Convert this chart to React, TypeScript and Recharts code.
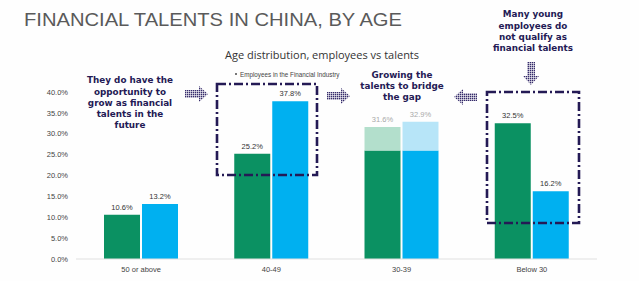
import { BarChart, Bar, XAxis, YAxis, LabelList } from "recharts"

const ageGroups = ["50 or above", "40-49", "30-39", "Below 30"]
// employees in the financial industry (green) and financial talents (blue), in %
const employeesSolid = [10.6, 25.2, 26.0, 32.5]
const employeesTotal = [10.6, 25.2, 31.6, 32.5]
const talentsSolid = [13.2, 37.8, 26.0, 16.2]
const talentsTotal = [13.2, 37.8, 32.9, 16.2]
const yTicks = [0, 5, 10, 15, 20, 25, 30, 35, 40]

const chartData = ageGroups.map((name, i) => ({
  name,
  empBase: employeesSolid[i],
  empExtra: +(employeesTotal[i] - employeesSolid[i]).toFixed(1),
  talBase: talentsSolid[i],
  talExtra: +(talentsTotal[i] - talentsSolid[i]).toFixed(1),
}))

const GREEN = "#0b9162"
const GREEN_LIGHT = "#b3dfcc"
const BLUE = "#00b0f0"
const BLUE_LIGHT = "#b7e5f8"
const NAVY = "#241a55"
const FONT = "'Liberation Sans', Arial, sans-serif"

// label sits above the whole stack: work out its top from the base bar's own scale
const totalLabel = (solid: number[], totals: number[]) => (props: any) => {
  const { x, y, width, height, index } = props
  const bottom = Number(y) + Number(height)
  const pxPerUnit = Number(height) / solid[index]
  const top = bottom - totals[index] * pxPerUnit
  const faded = totals[index] > solid[index]
  return (
    <text
      x={Number(x) + Number(width) / 2}
      y={top - 5}
      textAnchor="middle"
      fontSize={7.5}
      fontFamily={FONT}
      fill={faded ? "#a9a9a9" : "#333"}
    >
      {totals[index].toFixed(1)}%
    </text>
  )
}

function Arrow({ x, y, dir }: { x: number; y: number; dir: "right" | "left" | "down" }) {
  // arrow drawn pointing right around (0,0), then rotated
  const rot = dir === "right" ? 0 : dir === "left" ? 180 : 90
  return (
    <g transform={`translate(${x},${y}) rotate(${rot})`}>
      <polygon
        points="-12,-4 2,-4 2,-8 11,0 2,8 2,4 -12,4"
        fill="url(#dots)"
      />
    </g>
  )
}

const dashDot = "9 3 2 3"

export default function App() {
  return (
    <div
      style={{
        position: "absolute",
        left: 0,
        top: 0,
        width: 639,
        height: 281,
        background: "#fefefe",
        overflow: "hidden",
      }}
    >
      <BarChart
        width={639}
        height={281}
        data={chartData}
        margin={{ top: 92, right: 42, bottom: 2, left: 16 }}
        barSize={36}
        barGap={2}
      >
        <XAxis
          dataKey="name"
          height={20}
          tickLine={false}
          axisLine={{ stroke: "#e0e0e0" }}
          tick={{ fontSize: 7.5, fill: "#444", fontFamily: FONT }}
        />
        <YAxis
          width={60}
          domain={[0, 40]}
          ticks={yTicks}
          axisLine={false}
          tickLine={false}
          tick={{ fontSize: 7.5, fill: "#444", fontFamily: FONT }}
          tickFormatter={(v) => `${Number(v).toFixed(1)}%`}
        />
        <Bar dataKey="empBase" stackId="emp" fill={GREEN} isAnimationActive={false}>
          <LabelList dataKey="empBase" content={totalLabel(employeesSolid, employeesTotal)} />
        </Bar>
        <Bar dataKey="empExtra" stackId="emp" fill={GREEN_LIGHT} isAnimationActive={false} />
        <Bar dataKey="talBase" stackId="tal" fill={BLUE} isAnimationActive={false}>
          <LabelList dataKey="talBase" content={totalLabel(talentsSolid, talentsTotal)} />
        </Bar>
        <Bar dataKey="talExtra" stackId="tal" fill={BLUE_LIGHT} isAnimationActive={false} />
      </BarChart>

      <svg
        width={639}
        height={281}
        style={{ position: "absolute", left: 0, top: 0, pointerEvents: "none" }}
      >
        <defs>
          <pattern id="dots" width="2" height="2" patternUnits="userSpaceOnUse">
            <rect width="1.4" height="1.4" fill="#352b6a" />
          </pattern>
        </defs>

        <text x={24} y={26} fontSize={19} fontFamily={FONT} fill="#5a5a5a" textLength={378} lengthAdjust="spacingAndGlyphs">
          FINANCIAL TALENTS IN CHINA, BY AGE
        </text>
        <text x={322} y={59} textAnchor="middle" fontSize={11} fontFamily="'Open Sans', sans-serif" fill="#333">
          Age distribution, employees vs talents
        </text>
        <rect x={235} y={73} width={2} height={2} fill="#777" />
        <text x={240} y={77} fontSize={6.3} fontFamily={FONT} fill="#444">
          Employees in the Financial Industry
        </text>

        <g fontFamily="'DejaVu Sans', sans-serif" fontWeight="bold" fontSize={8.8} fill={NAVY} textAnchor="middle">
          <text x={130} y={83}>They do have the</text>
          <text x={130} y={94.5}>opportunity  to</text>
          <text x={130} y={106}>grow as financial</text>
          <text x={130} y={117}>talents in the</text>
          <text x={130} y={128}>future</text>

          <text x={402} y={78}>Growing the</text>
          <text x={402} y={89}>talents to bridge</text>
          <text x={402} y={100}>the gap</text>

          <text x={533} y={17}>Many young</text>
          <text x={533} y={28.5}>employees do</text>
          <text x={533} y={40}>not qualify as</text>
          <text x={533} y={51}>financial talents</text>
        </g>

        <rect x={217} y={84} width={100} height={91} fill="none" stroke={NAVY} strokeWidth={2.6} strokeDasharray={dashDot} />
        <rect x={487} y={92} width={92} height={131} fill="none" stroke={NAVY} strokeWidth={2.6} strokeDasharray={dashDot} />

        <Arrow x={197} y={94} dir="right" />
        <Arrow x={339} y={96} dir="right" />
        <Arrow x={465} y={97} dir="left" />
        <Arrow x={531} y={74} dir="down" />
      </svg>
    </div>
  )
}
